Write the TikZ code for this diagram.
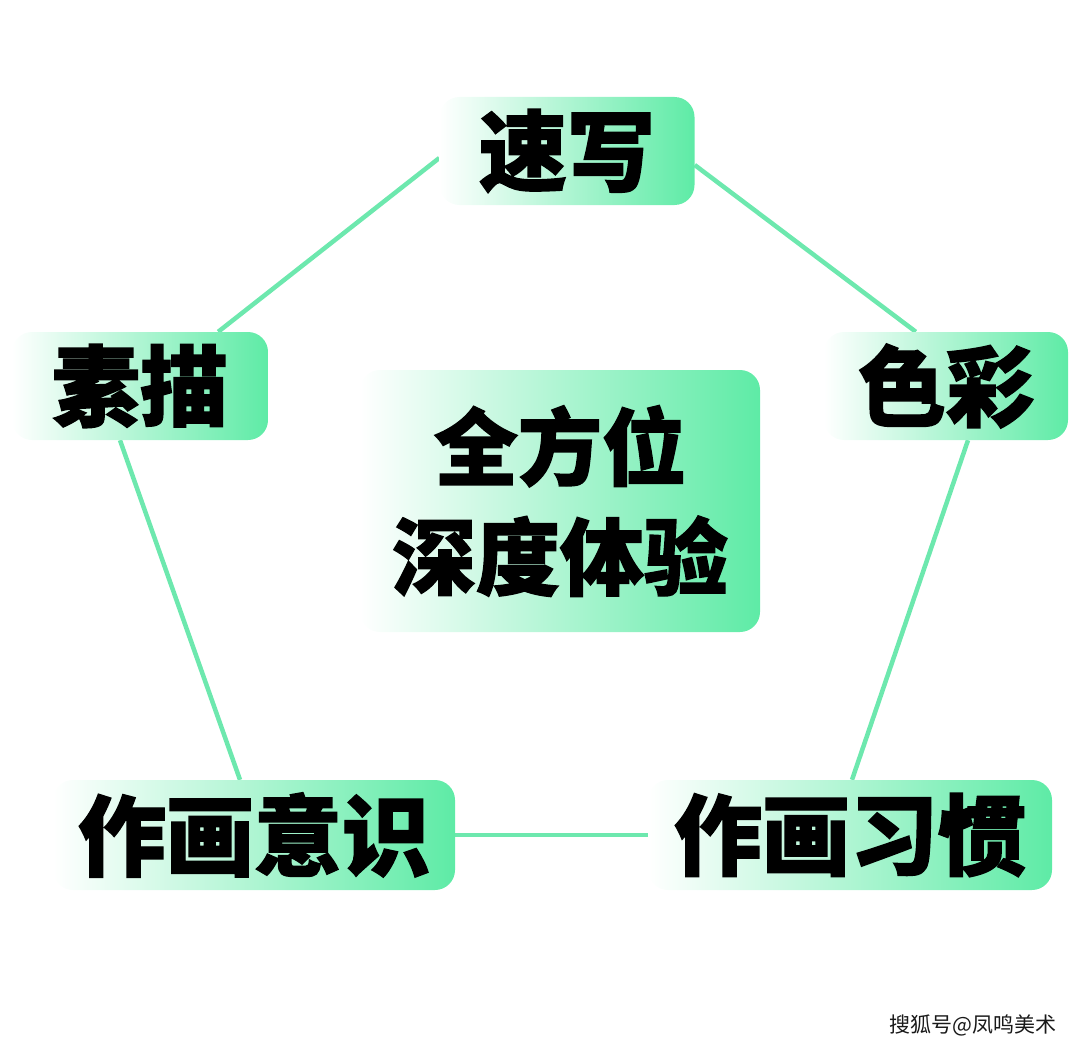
\documentclass[tikz,border=0pt]{standalone}
\usepackage{fontspec}
\newfontfamily\cjk{Noto Sans CJK SC}[BoldFeatures={FakeBold=1.6}]
\usetikzlibrary{backgrounds}
\definecolor{boxgreen}{HTML}{5EEBA6}
\definecolor{linegreen}{HTML}{6DE8AE}
\tikzset{
  x=1pt,y=-1pt,
  tag/.style={rounded corners=20pt, left color=white, right color=boxgreen, shading angle=90,
    inner sep=0pt, font=\cjk\bfseries\fontsize{88}{100}\selectfont, text=black, align=center},
  link/.style={draw=linegreen, line width=4.5pt}
}
\begin{document}
\begin{tikzpicture}
\useasboundingbox (0,0) rectangle (1080,1049);
\node[tag, minimum width=255pt, minimum height=108pt] (sx) at (567,151) {速写};
\node[tag, minimum width=256pt, minimum height=108pt] (sm) at (140,386) {素描};
\node[tag, minimum width=244pt, minimum height=108pt] (cs) at (946,386) {色彩};
\node[tag, minimum width=402pt, minimum height=110pt] (ys) at (254,835) {作画意识};
\node[tag, minimum width=404pt, minimum height=110pt] (yg) at (850,835) {作画习惯};
\node[tag, minimum width=400pt, minimum height=262pt, font=\cjk\bfseries\fontsize{84}{110}\selectfont] (ct) at (560,501) {全方位\\深度体验};
\begin{scope}[on background layer]
\draw[link] ([yshift=-7pt]sx.west) -- ([xshift=-50pt]sm.north east);
\draw[link] ([yshift=-14pt]sx.east) -- ([xshift=92pt]cs.north west);
\draw[link] ([xshift=-20pt]sm.south) -- ([xshift=-14pt]ys.north);
\draw[link] ([xshift=22pt]cs.south) -- ([xshift=2pt]yg.north);
\draw[link] (ys.east) -- (yg.west);
\end{scope}
\node[font=\cjk\fontsize{21}{24}\selectfont, text=black!90, anchor=east, inner sep=0pt] (wm) at (1057,1025) {搜狐号@凤鸣美术};
\end{tikzpicture}
\end{document}
